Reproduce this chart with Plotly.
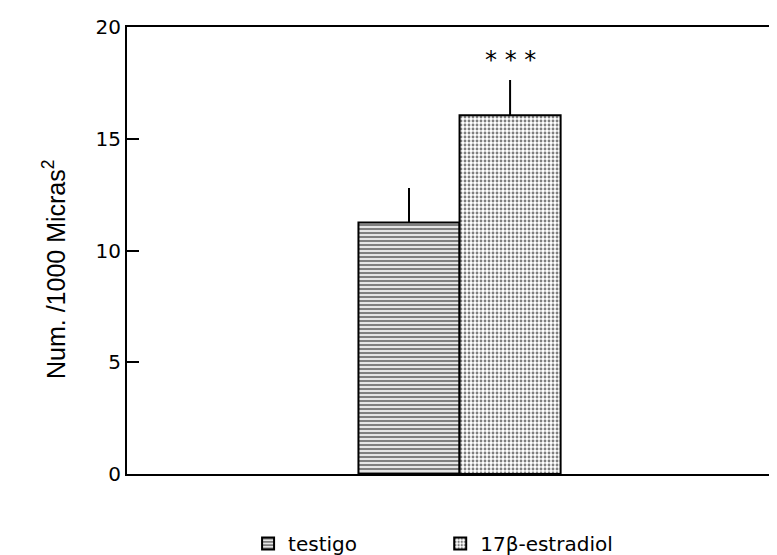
import plotly.graph_objects as go

categories = ["testigo", "17β-estradiol"]
means = [11.25, 16.05]
errors_up = [1.55, 1.58]
signif = ["", "* * *"]
y_ticks = [0, 5, 10, 15, 20]
y_ticklabels = ["0", "5", "10", "15", "20"]

patterns = [
    dict(shape="-", fgcolor="black", bgcolor="white", size=4, solidity=0.6),
    dict(shape=".", fgcolor="black", bgcolor="white", size=4, solidity=0.4),
]
legend_ids = ["legend", "legend2"]

fig = go.Figure()
for i, cat in enumerate(categories):
    fig.add_trace(go.Bar(
        x=[cat], y=[means[i]], name=cat, width=1.0, legend=legend_ids[i],
        marker=dict(color="white", line=dict(color="black", width=2),
                    pattern=patterns[i]),
        error_y=dict(type="data", symmetric=False, array=[errors_up[i]],
                     arrayminus=[0], width=0, thickness=2, color="black"),
    ))
    if signif[i]:
        fig.add_annotation(x=cat, y=means[i] + errors_up[i] + 0.9, text=signif[i],
                           showarrow=False,
                           font=dict(size=24, color="black", family="DejaVu Sans"))

fig.add_annotation(xref="paper", yref="paper", x=-0.138, y=0.459,
                   text="Num. /1000 Micras<sup>2</sup>", textangle=-90,
                   showarrow=False,
                   font=dict(family="Liberation Sans", size=25, color="black"))

legend_font = dict(family="DejaVu Sans", size=20, color="black")
fig.update_layout(
    width=777, height=555,
    margin=dict(l=119, r=0, t=19, b=81),
    paper_bgcolor="white", plot_bgcolor="white",
    barmode="overlay",
    showlegend=True,
    legend=dict(orientation="h", x=0.184, xanchor="left", y=-0.156, yanchor="middle",
                font=legend_font, bgcolor="rgba(0,0,0,0)"),
    legend2=dict(orientation="h", x=0.476, xanchor="left", y=-0.156, yanchor="middle",
                 font=legend_font, bgcolor="rgba(0,0,0,0)"),
)
fig.update_xaxes(type="category", categoryorder="array", categoryarray=categories,
                 range=[-2.79, 3.72], showticklabels=False, ticks="",
                 showline=True, linecolor="black", linewidth=2, mirror=True,
                 showgrid=False, zeroline=False)
fig.update_yaxes(range=[0, 20], tickvals=y_ticks, ticktext=y_ticklabels,
                 ticks="inside", ticklen=12, tickwidth=2, tickcolor="black",
                 showline=True, linecolor="black", linewidth=2,
                 showgrid=False, zeroline=False,
                 tickfont=dict(family="DejaVu Sans", size=20, color="black"))

fig.write_html("out.html")
